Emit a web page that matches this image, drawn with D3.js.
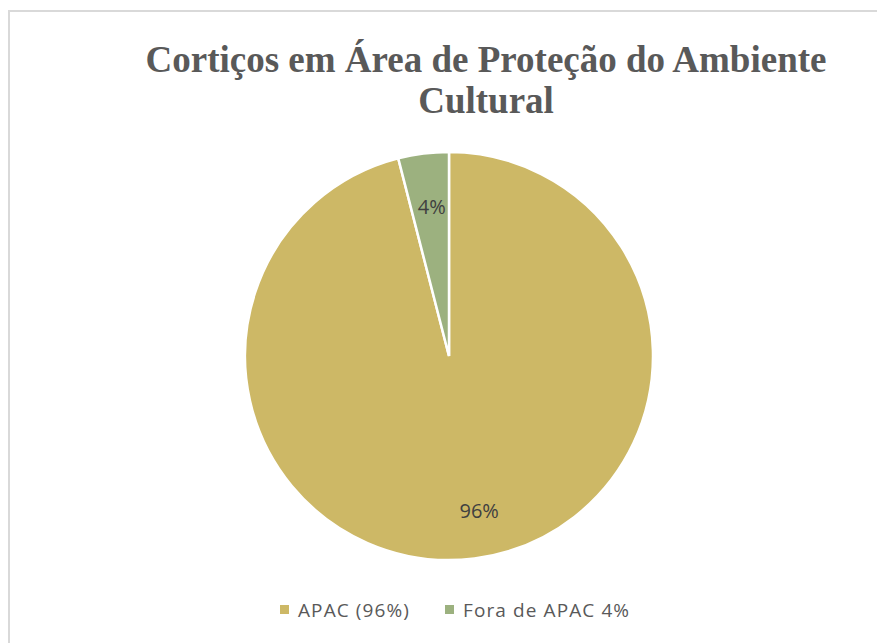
<!DOCTYPE html>
<html><head><meta charset="utf-8">
<script src="https://cdn.jsdelivr.net/npm/d3@7"></script>
<style>body{margin:0;background:#fff;}svg{display:block;}</style>
</head><body>
<svg id="chart" width="877" height="643"></svg>
<script>
const categories = ["APAC (96%)", "Fora de APAC 4%"];
const values = [96, 4];
const sliceLabels = ["96%", "4%"];
const colors = ["#CDB866", "#9CB17F"];
const titleLines = ["Cortiços em Área de Proteção do Ambiente", "Cultural"];

const svg = d3.select("#chart");
svg.append("rect").attr("x", 9).attr("y", 11).attr("width", 900).attr("height", 700)
  .attr("fill", "#fff").attr("stroke", "#D9D9D9").attr("stroke-width", 2);

const title = svg.append("text").attr("text-anchor", "middle")
  .attr("font-family", "Liberation Serif, Times New Roman, serif")
  .attr("font-weight", "bold").attr("font-size", 37).attr("fill", "#595959");
titleLines.forEach((t, i) => title.append("tspan").attr("x", 486).attr("y", 72 + i * 41).text(t));

const cx = 449, cy = 356, r = 204;
const pie = d3.pie().sort(null).value(d => d)(values);
const arc = d3.arc().innerRadius(0).outerRadius(r);
const g = svg.append("g").attr("transform", `translate(${cx},${cy})`);
g.selectAll("path").data(pie).join("path")
  .attr("d", arc).attr("fill", (d, i) => colors[i])
  .attr("stroke", "#fff").attr("stroke-width", 2.5);

const labelArc = d3.arc().innerRadius(r * 0.75).outerRadius(r * 0.75);
g.selectAll("text.lbl").data(pie).join("text").attr("class", "lbl")
  .attr("transform", d => { const c = labelArc.centroid(d); return `translate(${c[0] + (d.index === 0 ? 11 : 2)},${c[1] + 3})`; })
  .attr("text-anchor", "middle").attr("dy", "0.35em")
  .attr("font-family", "Open Sans, Liberation Sans, sans-serif").attr("font-size", 20)
  .attr("fill", "#404040").text((d, i) => sliceLabels[i]);

const legendX = [280, 445];
const lg = svg.append("g");
categories.forEach((c, i) => {
  lg.append("rect").attr("x", legendX[i]).attr("y", 605).attr("width", 9).attr("height", 9).attr("fill", colors[i]);
  lg.append("text").attr("x", legendX[i] + 18).attr("y", 610).attr("dy", "0.35em")
    .attr("font-family", "Open Sans, Liberation Sans, sans-serif").attr("font-size", 19)
    .attr("letter-spacing", 1.1)
    .attr("fill", "#595959").text(c);
});
</script>
</body></html>
